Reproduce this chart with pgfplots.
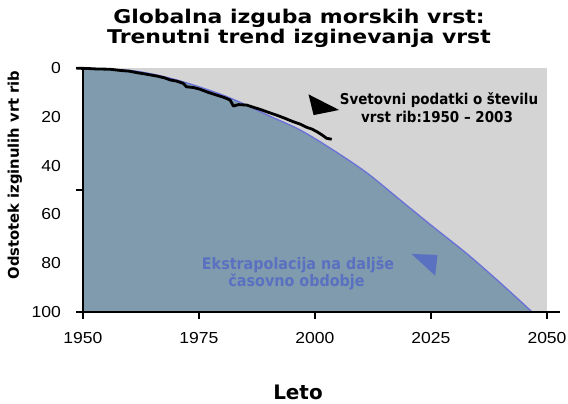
\documentclass[border=0pt]{standalone}
\usepackage{pgfplots}
\pgfplotsset{compat=1.18}
\usepackage{fontspec}
\setmainfont{Liberation Sans}
\newfontfamily\titlefont{DejaVu Sans}[FakeStretch=1.16]
\newfontfamily\labfont{DejaVu Sans}
\newfontfamily\annfont{DejaVu Sans}[FakeStretch=0.9]
\newfontfamily\tickfont{Liberation Sans}[FakeStretch=1.1]
\definecolor{bggray}{RGB}{212,212,212}
\definecolor{fillc}{RGB}{128,155,174}
\definecolor{curvec}{RGB}{105,112,215}
\definecolor{annblue}{RGB}{90,112,192}
\begin{document}
\begin{tikzpicture}
\begin{axis}[
  scale only axis, width=464bp, height=244bp,
  xmin=1950, xmax=2050, ymin=0, ymax=100, y dir=reverse,
  clip=false,
  axis background/.style={fill=bggray},
  axis line style={draw=none},
  xtick={1950,1975,2000,2025,2050},
  ytick={0,20,40,60,80,100},
  major tick length=0pt,
  tick style={draw=none},
  xticklabel style={font=\tickfont\fontsize{16}{18}\selectfont, yshift=-17bp},
  yticklabel style={font=\tickfont\fontsize{16}{18}\selectfont, anchor=east, inner sep=0pt, xshift=-22bp},
  /pgf/number format/assume math mode=true,
  /pgf/number format/1000 sep={},
]
% filled area below the extrapolation curve
\addplot[fill=fillc, draw=none, smooth, tension=0.5] coordinates {
 (1950,0) (1960,1) (1965,2.5) (1970,4.8) (1975,7.7) (1980,11) (1985,15)
 (1990,19.5) (1996.8,25.4) (2003.9,33.6) (2011.2,43) (2018.3,54)
 (2025.4,65) (2032.8,76.2) (2039.9,88) (2046.8,100)
} -- (axis cs:1950,100) -- cycle;
% extrapolation curve
\addplot[curvec, line width=1.3bp, smooth, tension=0.5] coordinates {
 (1950,0) (1960,1) (1965,2.5) (1970,4.8) (1975,7.7) (1980,11) (1985,15)
 (1990,19.5) (1996.8,25.4) (2003.9,33.6) (2011.2,43) (2018.3,54)
 (2025.4,65) (2032.8,76.2) (2039.9,88) (2046.8,100)
};
% observed data 1950-2003
\addplot[black, line width=2.8bp, line join=round] coordinates {
 (1948.6,0.1) (1951,0.2) (1953,0.4) (1955.8,0.5) (1958,1.0) (1960,1.3)
 (1961.6,1.9) (1963.5,2.5) (1965.9,3.3) (1967.5,4.0) (1968.8,4.9)
 (1970.2,5.4) (1971.6,6.3) (1972.3,7.7) (1973.8,8.0) (1975.2,8.7)
 (1977,10.0) (1978.8,11.1) (1980.3,12.0) (1981.7,13.1) (1982.4,15.6)
 (1983.5,15.0) (1985.3,15.2) (1986.7,16.1) (1988.1,16.9) (1990,18.2)
 (1991.7,19.3) (1993.5,20.6) (1995.3,22.0) (1996.8,23.0) (1998.2,24.3)
 (1999.3,25.0) (2000.4,26.1) (2001.5,27.4) (2002.5,28.8) (2003.6,29.2)
};
% pointers
\fill[black] (axis cs:1998.6,10.8) -- (axis cs:2005.2,17.2) -- (axis cs:1999.7,19.3) -- cycle;
\fill[annblue] (axis cs:2020.8,76.2) -- (axis cs:2026.4,76.6) -- (axis cs:2025.9,85.1) -- cycle;
% axis lines and tick marks
\draw[line width=2.6bp, black] (axis cs:1950,-0.6) -- (axis cs:1950,100) -- (axis cs:2052.8,100);
\pgfplotsinvokeforeach{1950,1975,2000,2025,2050}{
  \draw[line width=2.5bp, black] (axis cs:#1,100) -- ++(0bp,-7bp);
}
\pgfplotsinvokeforeach{0,50,100}{
  \draw[line width=2.5bp, black] (axis cs:1950,#1) -- ++(-7bp,0bp);
}
\end{axis}
% texts
\node[anchor=base, font=\titlefont\bfseries\fontsize{19}{20}\selectfont] at (216bp,288bp) {Globalna izguba morskih vrst:};
\node[anchor=base, font=\titlefont\bfseries\fontsize{19}{20}\selectfont] at (216bp,268bp) {Trenutni trend izginevanja vrst};
\node[anchor=base, rotate=90, font=\labfont\bfseries\fontsize{14.8}{16}\selectfont] at (-64bp,137bp) {Odstotek izginulih vrt rib};
\node[anchor=base, font=\labfont\bfseries\fontsize{20}{22}\selectfont] at (215bp,-87bp) {Leto};
\node[anchor=base, font=\annfont\bfseries\fontsize{15}{17}\selectfont] at (356bp,207bp) {Svetovni podatki o številu};
\node[anchor=base, font=\annfont\bfseries\fontsize{15}{17}\selectfont] at (354bp,189bp) {vrst rib:1950 – 2003};
\node[anchor=base, text=annblue, font=\annfont\bfseries\fontsize{16}{18}\selectfont] at (215bp,42bp) {Ekstrapolacija na daljše};
\node[anchor=base, text=annblue, font=\annfont\bfseries\fontsize{16}{18}\selectfont] at (213.5bp,26bp) {časovno obdobje};
\pgfresetboundingbox
\path[use as bounding box] (-83bp,-92bp) rectangle (485bp,312bp);
\end{tikzpicture}
\end{document}
